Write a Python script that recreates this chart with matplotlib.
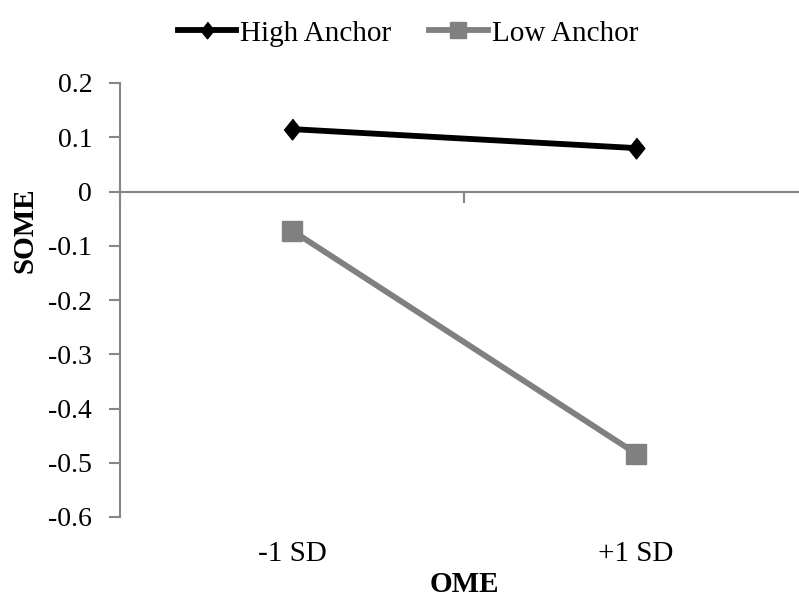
import matplotlib
matplotlib.use('Agg')
import matplotlib.pyplot as plt

# ---- data ----
categories = ['-1 SD', '+1 SD']
high_anchor = [0.115, 0.080]
low_anchor = [-0.072, -0.483]
y_ticks = [0.2, 0.1, 0.0, -0.1, -0.2, -0.3, -0.4, -0.5, -0.6]
y_tick_labels = ['0.2', '0.1', '0', '-0.1', '-0.2', '-0.3', '-0.4', '-0.5', '-0.6']
series_names = ['High Anchor', 'Low Anchor']
x_title = 'OME'
y_title = 'SOME'

plt.rcParams['font.family'] = ['Liberation Serif', 'DejaVu Serif']
FS = 21
FS_TICK = 20
axis_gray = '#868686'

fig = plt.figure(figsize=(7.99, 6.02), dpi=100)
ax = fig.add_axes([120 / 799, 85 / 602, 688 / 799, 434 / 602])

xpos = [i + 0.5 for i in range(len(categories))]
diamond = [(0, 1), (0.8, 0), (0, -1), (-0.8, 0)]

ax.plot(xpos, high_anchor, color='black', lw=4.2, marker=diamond, ms=15,
        markerfacecolor='black', markeredgecolor='black', label=series_names[0],
        zorder=4)
ax.plot(xpos, low_anchor, color='#808080', lw=4.2, marker='s', ms=14,
        markerfacecolor='#808080', markeredgecolor='#808080', label=series_names[1],
        zorder=3)

ax.set_xlim(0, len(categories))
ax.set_ylim(min(y_ticks), max(y_ticks))

for s in ['top', 'right']:
    ax.spines[s].set_visible(False)
ax.spines['left'].set_color(axis_gray)
ax.spines['left'].set_linewidth(1.5)
ax.spines['bottom'].set_position(('data', 0))
ax.spines['bottom'].set_color(axis_gray)
ax.spines['bottom'].set_linewidth(1.5)

ax.set_yticks(y_ticks)
ax.set_yticklabels(y_tick_labels)
ax.tick_params(axis='y', direction='out', length=8, width=1.5, color=axis_gray,
               labelsize=FS_TICK, pad=12)

ax.set_xticks(range(len(categories) + 1))
ax.set_xticklabels([])
ax.tick_params(axis='x', direction='out', length=8, width=1.5, color=axis_gray)

sec = ax.secondary_xaxis(0.0)
sec.set_xticks(xpos)
sec.set_xticklabels(categories)
sec.tick_params(axis='x', length=0, labelsize=FS, pad=17)
sec.spines['bottom'].set_visible(False)
sec.set_xlabel(x_title, fontsize=FS, fontweight='bold', labelpad=3)

ax.set_ylabel(y_title, fontsize=FS, fontweight='bold', va='center', ha='center')
ax.yaxis.set_label_coords(-0.138, 0.66)

fig.legend(loc='upper center', bbox_to_anchor=(408 / 799, 1 + 6 / 602), ncol=2,
           frameon=False, fontsize=FS, handlelength=2.0, handletextpad=0.15,
           columnspacing=1.3, markerscale=0.8)

fig.savefig('out.png', dpi=100)
